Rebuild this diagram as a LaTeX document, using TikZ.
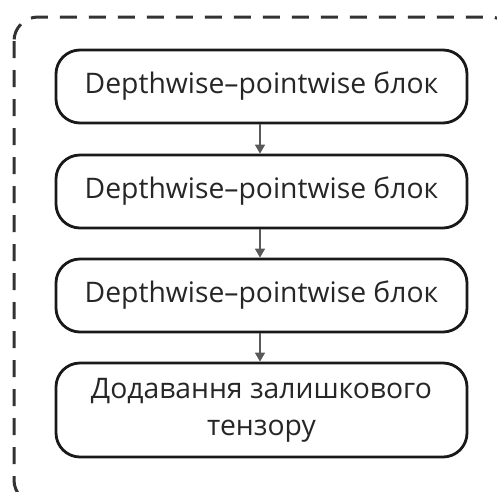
\documentclass[tikz,border=0pt]{standalone}
\usepackage{fontspec}
\setmainfont{Open Sans}
\usetikzlibrary{arrows.meta}
\begin{document}
\begin{tikzpicture}[x=1pt,y=-1pt,
  blockbox/.style={draw=black!90, line width=2.8pt, rounded corners=24pt,
    minimum width=411pt, inner sep=0pt, align=center, text=black!85,
    font=\fontsize{28.3}{37}\selectfont},
  flow/.style={draw=black!65, line width=1.5pt, -{Triangle[length=9pt,width=10pt]}}]
  \useasboundingbox (0,0) rectangle (497,491);
  \begin{scope}
    \clip (0,0) rectangle (497,491);
    \draw[black!80, line width=3pt, dash pattern=on 17pt off 12pt, rounded corners=24pt]
      (14,17) rectangle (514,504);
  \end{scope}
  \node[blockbox, minimum height=73pt] (b1) at (261.5,86.5) {Depthwise–pointwise блок};
  \node[blockbox, minimum height=73pt] (b2) at (261.5,191.5) {Depthwise–pointwise блок};
  \node[blockbox, minimum height=73pt] (b3) at (261.5,295.5) {Depthwise–pointwise блок};
  \node[blockbox, minimum height=94pt] (b4) at (261.5,410) {Додавання залишкового\\тензору};
  \draw[flow] ([xshift=-1.5pt]b1.south) -- ([xshift=-1.5pt]b2.north);
  \draw[flow] ([xshift=-1.5pt]b2.south) -- ([xshift=-1.5pt]b3.north);
  \draw[flow] ([xshift=-1.5pt]b3.south) -- ([xshift=-1.5pt]b4.north);
\end{tikzpicture}
\end{document}
